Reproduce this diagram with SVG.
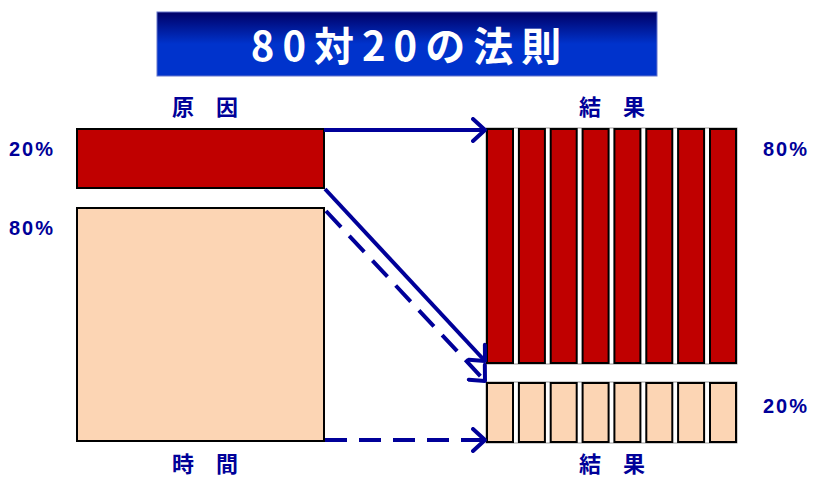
<svg xmlns="http://www.w3.org/2000/svg" width="813" height="478" viewBox="0 0 813 478">
<defs>
<linearGradient id="tg" x1="0" y1="0" x2="0" y2="1">
<stop offset="0" stop-color="#000066"/>
<stop offset="0.5" stop-color="#0033cc"/>
<stop offset="1" stop-color="#0033cc"/>
</linearGradient>
<marker id="ah" markerWidth="16" markerHeight="26" refX="14" refY="13" orient="auto" markerUnits="userSpaceOnUse" viewBox="0 0 16 26">
<path d="M2,2 L14,13 L2,24" fill="none" stroke="#000099" stroke-width="4" stroke-linecap="round" stroke-linejoin="round"/>
</marker>
<style>
.lbl{font-family:"Noto Sans CJK JP","Liberation Sans",sans-serif;font-weight:bold;fill:#000099;font-size:22px}
.pct{font-family:"Liberation Sans",sans-serif;font-weight:bold;fill:#000099;font-size:20px;letter-spacing:2px}
.red{fill:#c00000;stroke:#000;stroke-width:2}
.peach{fill:#fcd5b4;stroke:#000;stroke-width:2}
.ar{fill:none;stroke:#000099;stroke-width:4;marker-end:url(#ah)}
.dash{stroke-dasharray:22,12}
</style>
</defs>
<rect width="813" height="478" fill="#fff"/>
<g id="title">
<rect x="157" y="12" width="500" height="64" fill="url(#tg)" stroke="#6677cc" stroke-width="1"/>
<text x="410" y="61" text-anchor="middle" font-family="'Noto Sans CJK JP','Liberation Sans',sans-serif" font-weight="bold" font-size="40" fill="#fff" letter-spacing="8">80対20の法則</text>
</g>
<g id="cause">
<text class="lbl" x="205" y="115" text-anchor="middle">原　因</text>
<rect class="red" x="77" y="129" width="247" height="59"/>
<rect class="peach" x="77" y="208" width="247" height="233"/>
<text class="lbl" x="205" y="472" text-anchor="middle">時　間</text>
<text class="pct" x="9" y="156">20%</text>
<text class="pct" x="9" y="235">80%</text>
</g>
<g id="result-top">
<text class="lbl" x="612" y="115" text-anchor="middle">結　果</text>
<rect x="486" y="128" width="251" height="236" fill="none" stroke="#999" stroke-width="1"/>
<rect class="red" x="487" y="129" width="26" height="234"/>
<rect class="red" x="518.9" y="129" width="26" height="234"/>
<rect class="red" x="550.7" y="129" width="26" height="234"/>
<rect class="red" x="582.6" y="129" width="26" height="234"/>
<rect class="red" x="614.4" y="129" width="26" height="234"/>
<rect class="red" x="646.3" y="129" width="26" height="234"/>
<rect class="red" x="678.1" y="129" width="26" height="234"/>
<rect class="red" x="710" y="129" width="26" height="234"/>
<text class="pct" x="763" y="156">80%</text>
</g>
<g id="result-bottom">
<rect x="486" y="382" width="251" height="61" fill="none" stroke="#999" stroke-width="1"/>
<rect class="peach" x="487" y="383" width="26" height="59"/>
<rect class="peach" x="518.9" y="383" width="26" height="59"/>
<rect class="peach" x="550.7" y="383" width="26" height="59"/>
<rect class="peach" x="582.6" y="383" width="26" height="59"/>
<rect class="peach" x="614.4" y="383" width="26" height="59"/>
<rect class="peach" x="646.3" y="383" width="26" height="59"/>
<rect class="peach" x="678.1" y="383" width="26" height="59"/>
<rect class="peach" x="710" y="383" width="26" height="59"/>
<text class="lbl" x="612" y="472" text-anchor="middle">結　果</text>
<text class="pct" x="763" y="413">20%</text>
</g>
<g id="connectors">
<line class="ar" x1="324" y1="130" x2="485" y2="130"/>
<line class="ar" x1="325" y1="189" x2="485" y2="361"/>
<line class="ar dash" x1="326" y1="211" x2="485" y2="381"/>
<line class="ar dash" x1="325" y1="440" x2="485" y2="440"/>
</g>
</svg>
